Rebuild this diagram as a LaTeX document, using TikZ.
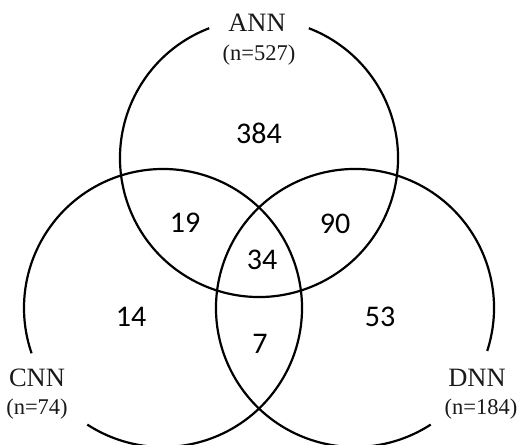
\documentclass[tikz,border=0pt]{standalone}
\usepackage{fontspec}
\setmainfont{Liberation Serif}
\newfontfamily\numfont{Carlito}
\usetikzlibrary{calc}
\begin{document}
\begin{tikzpicture}[
  ring/.style={line width=2.2pt, black},
  setname/.style={inner sep=0pt, font=\fontsize{26.5}{26.5}\selectfont, text=black!90},
  setcount/.style={inner sep=0pt, font=\fontsize{22.5}{22.5}\selectfont, text=black!90},
  region/.style={inner sep=0pt, font=\numfont\fontsize{30}{30}\selectfont}
]
\useasboundingbox (0pt,0pt) rectangle (518pt,444pt);
% circle centres
\coordinate (cA) at (259pt,286pt);
\coordinate (cC) at (163pt,136pt);
\coordinate (cD) at (355pt,136pt);
% arcs with gaps for labels
\draw[ring] ($(cA)+(111:139pt)$) arc[start angle=111, end angle=429, radius=139pt];
\draw[ring] ($(cC)+(237:139pt)$) arc[start angle=237, end angle=559, radius=139pt];
\draw[ring] ($(cD)+(-18:139pt)$) arc[start angle=-18, end angle=303, radius=139pt];
% set labels
\node[setname]  (ann)  at (257pt,421pt) {ANN};
\node[setcount] (annn) at (259pt,389pt) {(n=527)};
\node[setname]  (cnn)  at (37pt,66pt) {CNN};
\node[setcount] (cnnn) at (37pt,35pt) {(n=74)};
\node[setname]  (dnn)  at (477pt,66pt) {DNN};
\node[setcount] (dnnn) at (481pt,35pt) {(n=184)};
% region counts
\node[region] (r384) at (259pt,311pt) {384};
\node[region] (r19)  at (185pt,221pt) {19};
\node[region] (r90)  at (335pt,220pt) {90};
\node[region] (r34)  at (262pt,184pt) {34};
\node[region] (r14)  at (131pt,127pt) {14};
\node[region] (r7)   at (260pt,100pt) {7};
\node[region] (r53)  at (380pt,127pt) {53};
\end{tikzpicture}
\end{document}
